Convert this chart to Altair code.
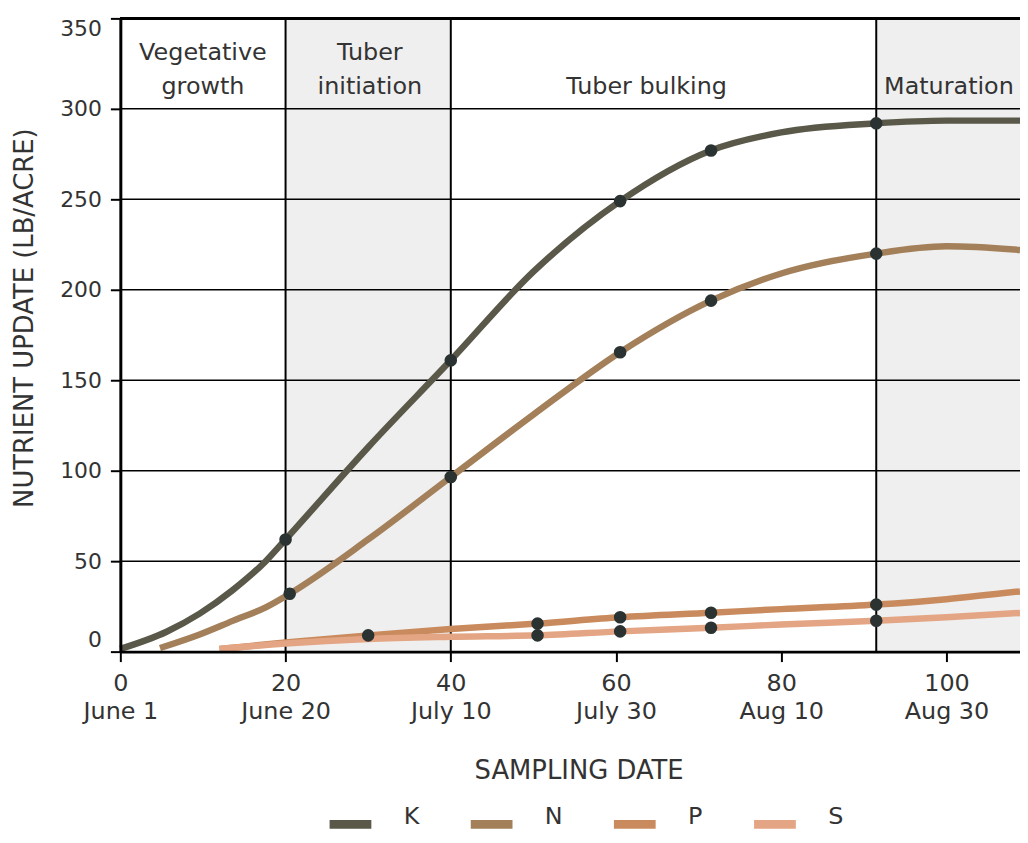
import altair as alt
import pandas as pd

# ---------------- data ----------------
series = ["K", "N", "P", "S"]
series_colors = ["#5a5849", "#a3805a", "#c98b5d", "#e3a583"]

# smooth curves
k_days = [0, 5.6, 9.6, 13.6, 17.6, 20, 30, 40, 50, 60.5, 71.5, 80, 91.5, 100, 108.9]
k_vals = [1.5, 11, 21, 34, 50, 62, 113, 161, 210, 249, 277, 287, 292, 293.5, 293.5]
n_days = [4.8, 9.6, 13.6, 17.6, 20.5, 30, 40, 50, 60.5, 71.5, 80, 91.5, 100, 108.9]
n_vals = [2, 9.5, 17, 24.5, 32, 62, 96.5, 131, 165.5, 194, 209, 220, 224, 222]
p_days = [12, 20, 30, 40, 50.5, 60.5, 71.5, 80, 91.5, 100, 108.9]
p_vals = [1.5, 5, 9, 12.5, 15.5, 19, 21.5, 23.5, 26, 29, 33.3]
s_days = [12, 20, 30, 40, 50.5, 60.5, 71.5, 80, 91.5, 100, 108.9]
s_vals = [1.5, 4.5, 7, 8.2, 9, 11.2, 13.2, 15, 17.1, 19, 21.4]

# sampled points (dots)
k_sample_days = [20, 40, 60.5, 71.5, 91.5]
k_sample_vals = [62, 161, 249, 277, 292]
n_sample_days = [20.5, 40, 60.5, 71.5, 91.5]
n_sample_vals = [32, 96.5, 165.5, 194, 220]
p_sample_days = [30, 50.5, 60.5, 71.5, 91.5]
p_sample_vals = [9, 15.5, 19, 21.5, 26]
s_sample_days = [50.5, 60.5, 71.5, 91.5]
s_sample_vals = [9, 11.2, 13.2, 17.1]

# growth phases
phase_names = ["Vegetative\ngrowth", "Tuber\ninitiation", "Tuber bulking", "Maturation"]
phase_start = [0, 20, 40, 91.5]
phase_end = [20, 40, 91.5, 108.9]
phase_shaded = [False, True, False, True]
phase_label_x = [10, 30.2, 63.7, 100.3]

# axes
x_tick_days = [0, 20, 40, 60, 80, 100]
x_tick_dates = ["June 1", "June 20", "July 10", "July 30", "Aug 10", "Aug 30"]
y_ticks = [0, 50, 100, 150, 200, 250, 300, 350]
y_grid = [50, 100, 150, 200, 250, 300]
x_max = 108.9
y_max = 350

# ---------------- tables ----------------
curves = pd.concat([
    pd.DataFrame({"series": s, "day": d, "value": v})
    for s, d, v in zip(series, [k_days, n_days, p_days, s_days],
                       [k_vals, n_vals, p_vals, s_vals])
], ignore_index=True)
samples = pd.concat([
    pd.DataFrame({"series": s, "day": d, "value": v})
    for s, d, v in zip(series,
                       [k_sample_days, n_sample_days, p_sample_days, s_sample_days],
                       [k_sample_vals, n_sample_vals, p_sample_vals, s_sample_vals])
], ignore_index=True)

W, H = 905, 637
PX_PER_UNIT_Y = H / y_max
LINE_H = 35                      # px between label lines
LAST_LINE_Y = 308                # data value of the last label line's baseline
phases = pd.DataFrame({"name": phase_names, "start": phase_start, "end": phase_end,
                       "shaded": phase_shaded, "label_x": phase_label_x})
phases["label_y"] = [LAST_LINE_Y + (n.count("\n")) * LINE_H / PX_PER_UNIT_Y for n in phase_names]
shaded = phases[phases["shaded"]]
dividers = pd.DataFrame({"day": phase_start[1:]})
grid = pd.DataFrame({"value": y_grid})

FONT = "DejaVu Sans"
TXT = "#333333"

x_scale = alt.Scale(domain=[0, x_max], nice=False, zero=False)
y_scale = alt.Scale(domain=[0, y_max], nice=False)

label_map = " : ".join(
    f"datum.value == {d} ? ['{d}', '{t}']" for d, t in zip(x_tick_days, x_tick_dates)
) + " : datum.label"

x_axis = alt.Axis(
    values=x_tick_days, labelExpr=label_map, title="SAMPLING DATE",
    domainColor="black", domainWidth=3, tickColor="black", tickWidth=2, tickSize=10,
    labelPadding=10, labelFont=FONT, labelFontSize=24, labelColor=TXT,
    labelLineHeight=28, labelFlush=False, grid=False,
    titleFont=FONT, titleFontSize=26, titleFontWeight="normal", titleColor=TXT,
    titleX=461, titleY=120, titleAlign="center", titleBaseline="middle", zindex=1,
)
y_axis = alt.Axis(
    values=y_ticks, title="NUTRIENT UPDATE (LB/ACRE)",
    domainColor="black", domainWidth=3, tickColor="black", tickWidth=2, tickSize=10,
    labelPadding=9, labelFont=FONT, labelFontSize=22, labelColor=TXT,
    labelFlush=True, grid=False,
    titleFont=FONT, titleFontSize=26, titleFontWeight="normal", titleColor=TXT,
    titleAngle=270, titleX=-96, titleY=301, titleAlign="center", titleBaseline="middle",
    zindex=1,
)


def X(field):
    return alt.X(field, type="quantitative", scale=x_scale, axis=x_axis)


def Y(field):
    return alt.Y(field, type="quantitative", scale=y_scale, axis=y_axis)


rects = alt.Chart(shaded).mark_rect(fill="#efefef").encode(
    x=X("start"), x2="end",
    y=alt.value(0), y2=alt.value(H),
)
grid_rules = alt.Chart(grid).mark_rule(color="black", strokeWidth=1.5).encode(
    y=Y("value"),
)
div_rules = alt.Chart(dividers).mark_rule(color="black", strokeWidth=2).encode(
    x=X("day"),
)
top_rule = alt.Chart(grid).mark_rule(color="black", strokeWidth=3).encode(
    y=alt.YDatum(y_max, scale=y_scale, axis=y_axis),
)
lines = alt.Chart(curves).mark_line(strokeWidth=6.5, interpolate="monotone", strokeCap="butt").encode(
    x=X("day"),
    y=Y("value"),
    color=alt.Color(
        "series:N",
        scale=alt.Scale(domain=series, range=series_colors),
        legend=alt.Legend(
            orient="none", legendX=206, legendY=785, direction="horizontal", title=None,
            symbolType="stroke", symbolSize=1764, symbolStrokeWidth=9,
            labelFont=FONT, labelFontSize=24, labelColor=TXT, labelOffset=28,
            labelBaseline="alphabetic", columnPadding=33, padding=0,
        ),
    ),
    order="day:Q",
)
dots = alt.Chart(samples).mark_circle(size=160, color="#2b3232", opacity=1).encode(
    x=X("day"),
    y=Y("value"),
)
labels = alt.Chart(phases).mark_text(
    font=FONT, fontSize=24, color=TXT, lineBreak="\n", lineHeight=LINE_H,
    baseline="alphabetic", align="center",
).encode(
    x=X("label_x"),
    y=Y("label_y"),
    text="name:N",
)

chart = alt.layer(rects, grid_rules, div_rules, top_rule, lines, dots, labels).properties(
    width=W, height=H,
    autosize=alt.AutoSizeParams(type="none"),
    padding={"left": 113, "top": 8, "right": 0, "bottom": 181},
    background="white",
).configure_view(stroke=None)

chart.save("out.html", embed_options={"renderer": "svg", "actions": False})
